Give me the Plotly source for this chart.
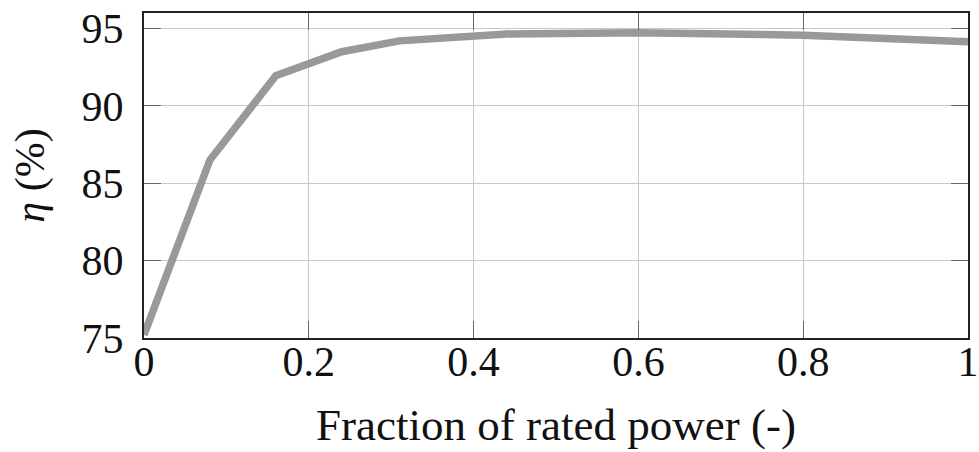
import plotly.graph_objects as go

fraction = [0.0, 0.08, 0.16, 0.24, 0.31, 0.44, 0.6, 0.8, 1.0]
efficiency = [75.2, 86.5, 91.95, 93.5, 94.2, 94.65, 94.72, 94.57, 94.15]
x_ticks = [0, 0.2, 0.4, 0.6, 0.8, 1]
x_tick_text = ["0", "0.2", "0.4", "0.6", "0.8", "1"]
y_ticks = [75, 80, 85, 90, 95]

FONT = "Liberation Serif"

fig = go.Figure()
fig.add_trace(go.Scatter(
    x=fraction, y=efficiency, mode="lines",
    line=dict(color="#999999", width=7.5),
    showlegend=False,
))

axis_common = dict(
    showgrid=True, gridcolor="#c8c8c8", gridwidth=1,
    showline=True, linecolor="#222222", linewidth=2,
    mirror="allticks", ticks="inside", ticklen=17, tickwidth=1,
    tickcolor="#666666", zeroline=False, automargin=False,
    tickfont=dict(family=FONT, size=42, color="#111111"),
)

fig.update_layout(
    width=979, height=452,
    margin=dict(l=144, r=11, t=13, b=114),
    paper_bgcolor="white", plot_bgcolor="white",
    xaxis=dict(
        range=[0, 1], tickvals=x_ticks, ticktext=x_tick_text,
        ticklabelstandoff=-14,
        title=dict(text="Fraction of rated power (-)",
                   font=dict(family=FONT, size=45, color="#111111"),
                   standoff=24),
        **axis_common,
    ),
    yaxis=dict(
        range=[75, 96], tickvals=y_ticks,
        ticklabelstandoff=10,
        title=dict(text="<i>η</i> (%)",
                   font=dict(family=FONT, size=42, color="#111111"),
                   standoff=24),
        **axis_common,
    ),
)

fig.write_html("out.html", config={"displayModeBar": False},
               post_script="document.body.style.margin='0';")
